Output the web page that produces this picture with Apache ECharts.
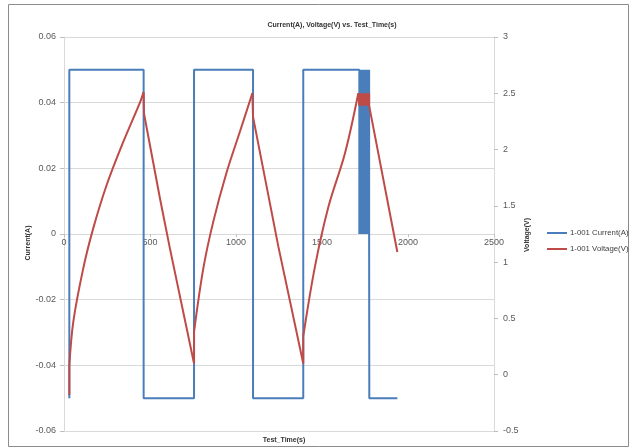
<!DOCTYPE html>
<html><head><meta charset="utf-8">
<script src="https://cdn.jsdelivr.net/npm/echarts@6/dist/echarts.min.js"></script>
<style>html,body{margin:0;padding:0;background:#fff}#c{width:630px;height:447px}</style>
</head><body><div id="c"></div>
<script>
// ---- data ----
const xTickValues = [0, 500, 1000, 1500, 2000, 2500];
const seriesNames = ['1-001 Current(A)', '1-001 Voltage(V)'];

// Current (A): step edges before the pulse block
const currentTimes  = [31, 31, 463, 463, 756, 756, 1099, 1099, 1391, 1391, 1717];
const currentValues = [-0.05, 0.05, 0.05, -0.05, -0.05, 0.05, 0.05, -0.05, -0.05, 0.05, 0.05];
// Pulse block (rapid switching)
const pulseTimes = [1717, 1720, 1723, 1726, 1729, 1732, 1735, 1738, 1741, 1744, 1747, 1750, 1753, 1756, 1759, 1762, 1765, 1768, 1771, 1774];
const pulseCurrentLevels = [0.05, 0];
const pulseVoltageLevels = [2.50, 2.39];
// After the pulse block
const tailCurrentTimes  = [1775, 1775, 1938];
const tailCurrentValues = [0, -0.05, -0.05];

// Voltage (V) — charging curves (smooth)
const rise1Times  = [31, 54, 112, 170, 248, 345, 442, 463];
const rise1Values = [0.08, 0.47, 0.945, 1.30, 1.685, 2.07, 2.42, 2.51];
const rise2Times  = [756, 810, 868, 946, 1023, 1095];
const rise2Values = [0.38, 0.945, 1.36, 1.80, 2.16, 2.50];
const rise3Times  = [1391, 1459, 1537, 1634, 1711];
const rise3Values = [0.34, 0.96, 1.49, 1.97, 2.50];
// Voltage (V) — straight parts
const startTimes  = [31, 31];
const startValues = [-0.18, 0.08];
const fall1Times  = [463, 465, 560, 616, 756, 756];
const fall1Values = [2.51, 2.32, 1.55, 1.12, 0.10, 0.38];
const fall2Times  = [1095, 1099, 1246, 1391, 1391];
const fall2Values = [2.50, 2.29, 1.14, 0.10, 0.34];
const tailVoltageTimes  = [1775, 1938];
const tailVoltageValues = [2.39, 1.09];

// ---- build series data ----
const pairs = (ts, vs) => ts.map((t, i) => [t, vs[i]]);
const currentData = pairs(currentTimes, currentValues);
pulseTimes.forEach(t => { currentData.push([t, pulseCurrentLevels[0]]); currentData.push([t, pulseCurrentLevels[1]]); });
pairs(tailCurrentTimes, tailCurrentValues).forEach(p => currentData.push(p));

const pulseVoltData = [[rise3Times[rise3Times.length - 1], rise3Values[rise3Values.length - 1]]];
pulseTimes.forEach(t => { pulseVoltData.push([t, pulseVoltageLevels[0]]); pulseVoltData.push([t, pulseVoltageLevels[1]]); });
pairs(tailVoltageTimes, tailVoltageValues).forEach(p => pulseVoltData.push(p));

const RED = '#BE4B48', BLUE = '#4A7EBB';
const FONT = '"Liberation Sans", Arial, sans-serif';
const voltSeries = (data, smooth) => ({
  name: seriesNames[1], type: 'line', yAxisIndex: 1, data, showSymbol: false, symbol: 'none',
  smooth: smooth ? 0.35 : false,
  lineStyle: {color: RED, width: 2}, itemStyle: {color: RED}, z: 3
});

const chart = echarts.init(document.getElementById('c'), null, {renderer: 'canvas'});
chart.setOption({
  animation: false,
  backgroundColor: '#fff',
  title: [
    {text: 'Current(A), Voltage(V) vs. Test_Time(s)', left: 327, top: 17, textAlign: 'center',
     textStyle: {fontSize: 7, fontWeight: 'bold', color: '#333', fontFamily: FONT}},
    {text: 'Test_Time(s)', left: 279, top: 432, textAlign: 'center',
     textStyle: {fontSize: 7, fontWeight: 'bold', color: '#333', fontFamily: FONT}}
  ],
  graphic: [
    {type: 'rect', shape: {x: 8.5, y: 4.5, width: 620, height: 442}, style: {fill: 'none', stroke: '#8c8c8c', lineWidth: 1}, silent: true, z: -1},
    {type: 'text', x: 28, y: 243, rotation: Math.PI / 2, style: {text: 'Current(A)', fontSize: 7, fontWeight: 'bold', fill: '#333', fontFamily: FONT, align: 'center', verticalAlign: 'middle'}},
    {type: 'text', x: 527, y: 235, rotation: Math.PI / 2, style: {text: 'Voltage(V)', fontSize: 7, fontWeight: 'bold', fill: '#333', fontFamily: FONT, align: 'center', verticalAlign: 'middle'}}
  ],
  legend: {
    orient: 'vertical', left: 542, top: 224, itemGap: 8, itemWidth: 20, itemHeight: 2,
    icon: 'rect',
    textStyle: {fontSize: 7.8, color: '#404040', fontFamily: FONT, padding: [0, 0, 0, -2]},
    data: seriesNames
  },
  grid: {left: 64, right: 136, top: 37, bottom: 16},
  xAxis: {
    type: 'value', min: xTickValues[0], max: xTickValues[xTickValues.length - 1], interval: 500,
    offset: -197,
    axisLine: {onZero: false, lineStyle: {color: '#d9d9d9'}},
    axisTick: {show: true, length: 3, lineStyle: {color: '#bfbfbf'}},
    axisLabel: {fontSize: 9, color: '#595959', fontFamily: FONT, margin: 4, formatter: v => String(v)},
    splitLine: {show: false}
  },
  yAxis: [
    {type: 'value', min: -0.06, max: 0.06, interval: 0.02,
     axisLine: {show: true, lineStyle: {color: '#d9d9d9'}},
     axisTick: {show: true, length: 4, lineStyle: {color: '#bfbfbf'}},
     axisLabel: {fontSize: 9, color: '#595959', fontFamily: FONT, margin: 8,
       formatter: v => String(Math.round(v * 100) / 100)},
     splitLine: {show: true, lineStyle: {color: '#d9d9d9', width: 1}}},
    {type: 'value', min: -0.5, max: 3, interval: 0.5, position: 'right',
     axisLine: {show: true, lineStyle: {color: '#d9d9d9'}},
     axisTick: {show: true, length: 4, lineStyle: {color: '#bfbfbf'}},
     axisLabel: {fontSize: 9, color: '#595959', fontFamily: FONT, margin: 9},
     splitLine: {show: false}}
  ],
  series: [
    {name: seriesNames[0], type: 'line', yAxisIndex: 0, data: currentData, showSymbol: false,
     symbol: 'none', lineStyle: {color: BLUE, width: 2}, itemStyle: {color: BLUE}, z: 2},
    voltSeries(pairs(startTimes, startValues), false),
    voltSeries(pairs(rise1Times, rise1Values), true),
    voltSeries(pairs(fall1Times, fall1Values), false),
    voltSeries(pairs(rise2Times, rise2Values), true),
    voltSeries(pairs(fall2Times, fall2Values), false),
    voltSeries(pairs(rise3Times, rise3Values), true),
    voltSeries(pulseVoltData, false)
  ]
});
</script></body></html>
